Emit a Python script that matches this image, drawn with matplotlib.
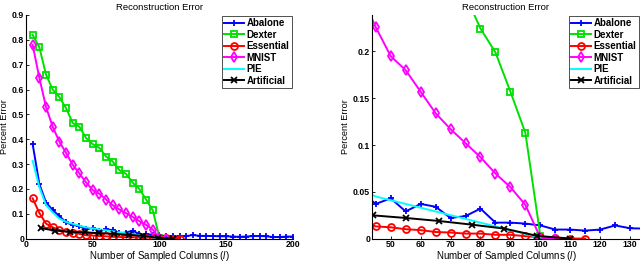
import numpy as np
import matplotlib
matplotlib.use("Agg")
import matplotlib.pyplot as plt

plt.rcParams["font.family"] = ["Liberation Sans", "DejaVu Sans"]
plt.rcParams["mathtext.fontset"] = "custom"
plt.rcParams["mathtext.it"] = "Liberation Sans:italic"
plt.rcParams["mathtext.rm"] = "Liberation Sans"

# === data ===
abalone_x = list(range(5, 205, 5))
abalone_y = [0.38, 0.22, 0.145, 0.115, 0.09, 0.065, 0.055, 0.05, 0.037, 0.043,
             0.029, 0.037, 0.034, 0.022, 0.024, 0.032, 0.017, 0.017, 0.016, 0.014,
             0.0096, 0.0096, 0.0085, 0.0096, 0.014, 0.011, 0.0106, 0.010, 0.009, 0.009,
             0.008, 0.007, 0.008, 0.010, 0.010, 0.009, 0.006, 0.006, 0.008, 0.008]

dexter_x = list(range(5, 105, 5))
dexter_y = [0.82, 0.77, 0.66, 0.60, 0.57, 0.525, 0.465, 0.45, 0.405, 0.38,
            0.365, 0.33, 0.31, 0.275, 0.26, 0.2245, 0.199, 0.157, 0.113, 0.003]

essential_x = list(range(5, 120, 5))
essential_y = [0.162, 0.103, 0.06, 0.045, 0.035, 0.028, 0.024, 0.019, 0.013, 0.012,
               0.010, 0.009, 0.007, 0.0064, 0.0053, 0.0053, 0.004, 0.004, 0.0025, 0.0014,
               0.0007, 0.0, 0.0]

mnist_x = list(range(5, 110, 5))
mnist_y = [0.78, 0.647, 0.53, 0.45, 0.39, 0.345, 0.297, 0.262, 0.226, 0.195,
           0.180, 0.157, 0.134, 0.117, 0.102, 0.087, 0.0695, 0.055, 0.036, 0.001, 0.0]

pie_x = list(range(5, 105, 5))
pie_y = [0.313, 0.207, 0.135, 0.105, 0.08, 0.067, 0.059, 0.052, 0.045, 0.041,
         0.037, 0.033, 0.029, 0.025, 0.021, 0.017, 0.013, 0.009, 0.005, 0.001]

artificial_x = list(range(11, 121, 11))
artificial_y = [0.042, 0.032, 0.027, 0.0248, 0.022, 0.0188, 0.0149, 0.0106, 0.0028, 0.0]

series = [
    ("Abalone", abalone_x, abalone_y, "#0000ff", "+", 5),
    ("Dexter", dexter_x, dexter_y, "#00e000", "s", 4.5),
    ("Essential", essential_x, essential_y, "#ff0000", "o", 5),
    ("MNIST", mnist_x, mnist_y, "#ff00ff", "d", 5),
    ("PIE", pie_x, pie_y, "#00ffff", None, 4),
    ("Artificial", artificial_x, artificial_y, "#000000", "x", 4),
]


def draw(ax):
    for name, x, y, c, m, ms in series:
        ax.plot(x, y, color=c, lw=1.4, marker=m, markersize=ms,
                markerfacecolor="none", markeredgecolor=c, markeredgewidth=1.3,
                label=name)
    ax.spines["top"].set_visible(False)
    ax.spines["right"].set_visible(False)
    ax.tick_params(direction="in", length=2.5, width=0.6, labelsize=6.3, pad=1.2)
    ax.set_title("Reconstruction Error", fontsize=6.8, pad=3.5)
    ax.set_xlabel("Number of Sampled Columns ($l$)", fontsize=7, va="center")
    ax.set_ylabel("Percent Error", fontsize=6.6, va="center")
    leg = ax.legend(loc="upper right", prop={"weight": "bold", "size": 7},
                    frameon=True, fancybox=False, edgecolor="black",
                    handlelength=2.0, handletextpad=0.3, borderpad=0.25,
                    labelspacing=0.15, borderaxespad=0.1)
    leg.get_frame().set_linewidth(0.6)


def bold_ticks(ax):
    for lab in ax.get_xticklabels() + ax.get_yticklabels():
        lab.set_fontweight("bold")


fig = plt.figure(figsize=(6.4, 2.63), dpi=100)

ax1 = fig.add_axes([0.0406, 0.093, 0.4172, 0.85])
draw(ax1)
ax1.set_xlim(0, 200)
ax1.set_ylim(0, 0.9)
ax1.set_xticks([0, 50, 100, 150, 200])
ax1.set_yticks(np.arange(0, 0.95, 0.1))
ax1.set_yticklabels(["0"] + ["%.1f" % v for v in np.arange(0.1, 0.95, 0.1)])
ax1.xaxis.set_label_coords(0.5, -0.077)
ax1.yaxis.set_label_coords(-0.08, 0.5)
bold_ticks(ax1)

ax2 = fig.add_axes([0.581, 0.093, 0.419, 0.85])
draw(ax2)
ax2.set_xlim(43.7, 133.3)
ax2.set_ylim(0, 0.239)
ax2.set_xticks(range(50, 131, 10))
ax2.set_yticks([0, 0.05, 0.1, 0.15, 0.2])
ax2.set_yticklabels(["0", "0.05", "0.1", "0.15", "0.2"])
ax2.xaxis.set_label_coords(0.5, -0.077)
ax2.yaxis.set_label_coords(-0.1, 0.5)
bold_ticks(ax2)

fig.savefig("out.png", dpi=100)
